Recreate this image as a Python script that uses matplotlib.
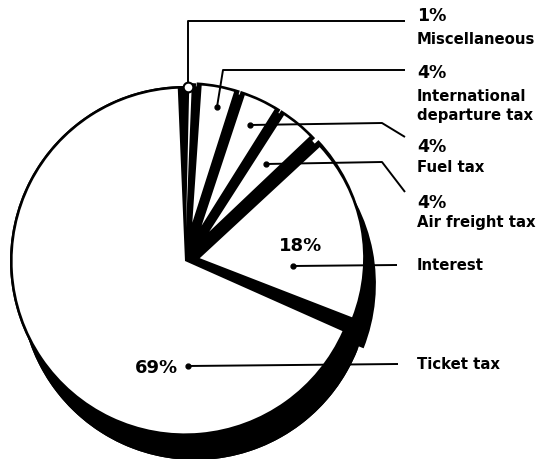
import matplotlib
matplotlib.use("Agg")
import matplotlib.pyplot as plt

# ---- data ----
categories = ["Miscellaneous", "International\ndeparture tax", "Fuel tax",
              "Air freight tax", "Interest", "Ticket tax"]
shares = [1, 4, 4, 4, 18, 69]
pct_labels = ["1%", "4%", "4%", "4%", "18%", "69%"]

# ---- layout (pixel space, y measured from top) ----
W, H = 537, 460
fig = plt.figure(figsize=(W / 100, H / 100), dpi=100)
ax = fig.add_axes([0, 0, 1, 1])

def Y(y):
    return H - y

cx, cy = 185, Y(262)
R = 175
outline = 2.6
body_push = [3, 4, 4, 4, 6, 0]        # px each slice's body is pulled out
face_inset = [30, 35, 35, 34, 9, 0]   # px the white face apex sits in from the body apex
trim = [1.3, 0.3, 0.3, 0.3, 0.4, 2.4]  # degrees trimmed off each side of a face
shadow_off = (10, -24)

common = dict(startangle=90, counterclock=False, frame=True)
n = len(shares)
# 3-D shadow (solid disc + pulled-out slices)
ax.pie([sum(shares)], radius=R, center=(cx + shadow_off[0], cy + shadow_off[1]),
       colors=["black"], wedgeprops=dict(linewidth=0), **common)
ax.pie(shares, radius=R, center=(cx + shadow_off[0], cy + shadow_off[1]),
       explode=body_push, colors=["black"] * n, wedgeprops=dict(linewidth=0), **common)
# solid black disc under everything (fills the hub)
ax.pie([sum(shares)], radius=R, center=(cx, cy), colors=["black"],
       wedgeprops=dict(linewidth=0), **common)
# black bodies (pulled out slices)
ax.pie(shares, radius=R, center=(cx, cy), explode=body_push,
       colors=["black"] * n, wedgeprops=dict(linewidth=0), **common)
# white faces
faces, _ = ax.pie(shares, radius=R, center=(cx, cy),
                  explode=[b + f for b, f in zip(body_push, face_inset)],
                  colors=["white"] * n, wedgeprops=dict(linewidth=0), **common)
for w, f, g in zip(faces, face_inset, trim):
    w.set_radius(R - outline - f)
    w.set_theta1(w.theta1 + g)
    w.set_theta2(w.theta2 - g)

ax.set_xlim(0, W)
ax.set_ylim(0, H)
ax.set_aspect("equal")
ax.axis("off")

font = dict(family="DejaVu Sans", weight="bold", color="black")
lx = 417
pct_y = [16, 73, 147, 203]
lab_y = [40, 106, 168, 223]
for i in range(4):
    ax.text(lx, Y(pct_y[i]), pct_labels[i], fontsize=12.5, va="center", ha="left", **font)
    ax.text(lx, Y(lab_y[i]), categories[i], fontsize=10.7, va="center", ha="left",
            linespacing=1.3, **font)
ax.text(lx, Y(266), categories[4], fontsize=10.7, va="center", ha="left", **font)
ax.text(lx, Y(365), categories[5], fontsize=10.7, va="center", ha="left", **font)
ax.text(301, Y(246), pct_labels[4], fontsize=13, va="center", ha="center", **font)
ax.text(156, Y(368), pct_labels[5], fontsize=13, va="center", ha="center", **font)

# leader lines
lw = 1.4
leaders = [
    [(188, 84), (188, 22), (405, 22)],
    [(217, 108), (223, 71), (405, 71)],
    [(250, 126), (382, 124), (405, 138)],
    [(266, 165), (382, 163), (405, 193)],
    [(293, 267), (397, 266)],
    [(188, 367), (398, 365)],
]
for k, pts in enumerate(leaders):
    xs = [p[0] for p in pts]
    ys = [Y(p[1]) for p in pts]
    ax.plot(xs, ys, color="black", lw=lw, solid_capstyle="butt", zorder=5)
    if k == 0:
        ax.plot([xs[0]], [Y(88)], marker="o", ms=7, mfc="white", mec="black", mew=1.5, zorder=6)
    else:
        ax.plot([xs[0]], [ys[0]], marker="o", ms=3.5, color="black", zorder=6)

fig.savefig("out.png", dpi=100, facecolor="white")
